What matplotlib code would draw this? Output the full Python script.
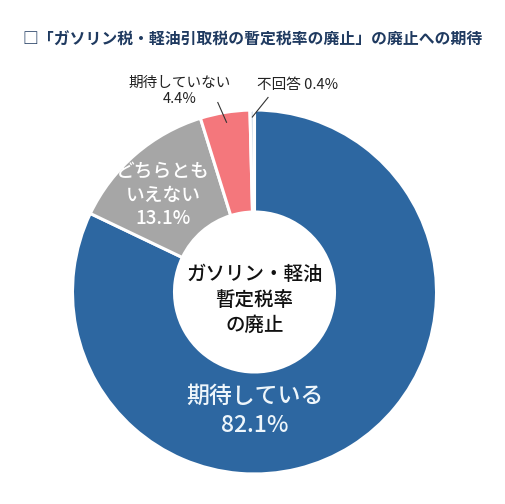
import numpy as np
import matplotlib
matplotlib.use("Agg")
import matplotlib.pyplot as plt

plt.rcParams['font.family'] = ['Noto Sans CJK JP', 'DejaVu Sans']

categories = ["期待している", "どちらとも\nいえない", "期待していない", "不回答"]
values = [82.1, 13.1, 4.4, 0.4]
colors = ["#2d67a1", "#a6a6a6", "#f4777c", "#d8e4ee"]
title = "□「ガソリン税・軽油引取税の暫定税率の廃止」の廃止への期待"
center_text = "ガソリン・軽油\n暫定税率\nの廃止"

W, H = 505, 504
fig = plt.figure(figsize=(W / 100, H / 100), dpi=100)
ax = fig.add_axes([0, 0, 1, 1])

cx, cy = 254.5, H - 292
R, r_in = 182, 80
wedges, _ = ax.pie(values, colors=colors, startangle=90, counterclock=False,
                   center=(cx, cy), radius=R, frame=True,
                   wedgeprops=dict(width=R - r_in, edgecolor='white', linewidth=2.2))
ax.set_xlim(0, W)
ax.set_ylim(0, H)
ax.set_aspect('equal')
ax.axis('off')

fig.text(22 / W, 1 - 40 / H, title, fontsize=11.4, fontweight='bold', color='#1f3a60',
         ha='left', va='center')

ax.text(cx, H - 300, center_text, ha='center', va='center', fontsize=14,
        fontweight='medium', color='#111111', linespacing=1.4)

pct = [f"{v:.1f}%" for v in values]
ax.text(cx, H - 411, f"{categories[0]}\n{pct[0]}", ha='center', va='center',
        fontsize=16.5, fontweight='medium', color='#eef6fb', linespacing=1.35)
ax.text(163, H - 195, f"{categories[1]}\n{pct[1]}", ha='center', va='center',
        fontsize=13.5, fontweight='medium', color='white', linespacing=1.3)


def polar(theta_deg, rad):
    t = np.deg2rad(theta_deg)
    return cx + rad * np.cos(t), cy + rad * np.sin(t)


# leader for 期待していない
m = (wedges[2].theta1 + wedges[2].theta2) / 2
p1, p2 = polar(m, 172), polar(m + 1.6, 193)
ax.plot([p1[0], p2[0]], [p1[1], p2[1]], color='#333333', lw=0.8)
ax.text(180, H - 91, f"{categories[2]}\n{pct[2]}", ha='center', va='center',
        fontsize=10.5, color='#222222', linespacing=1.15)

# leader for 不回答
m = (wedges[3].theta1 + wedges[3].theta2) / 2
p1, p2 = polar(m, 175), polar(m - 4.7, 195)
ax.plot([p1[0], p2[0]], [p1[1], p2[1]], color='#333333', lw=0.8)
ax.text(257, H - 85, f"{categories[3]} {pct[3]}", ha='left', va='center',
        fontsize=10.5, color='#222222')

fig.savefig("out.png", dpi=100, facecolor='white')
